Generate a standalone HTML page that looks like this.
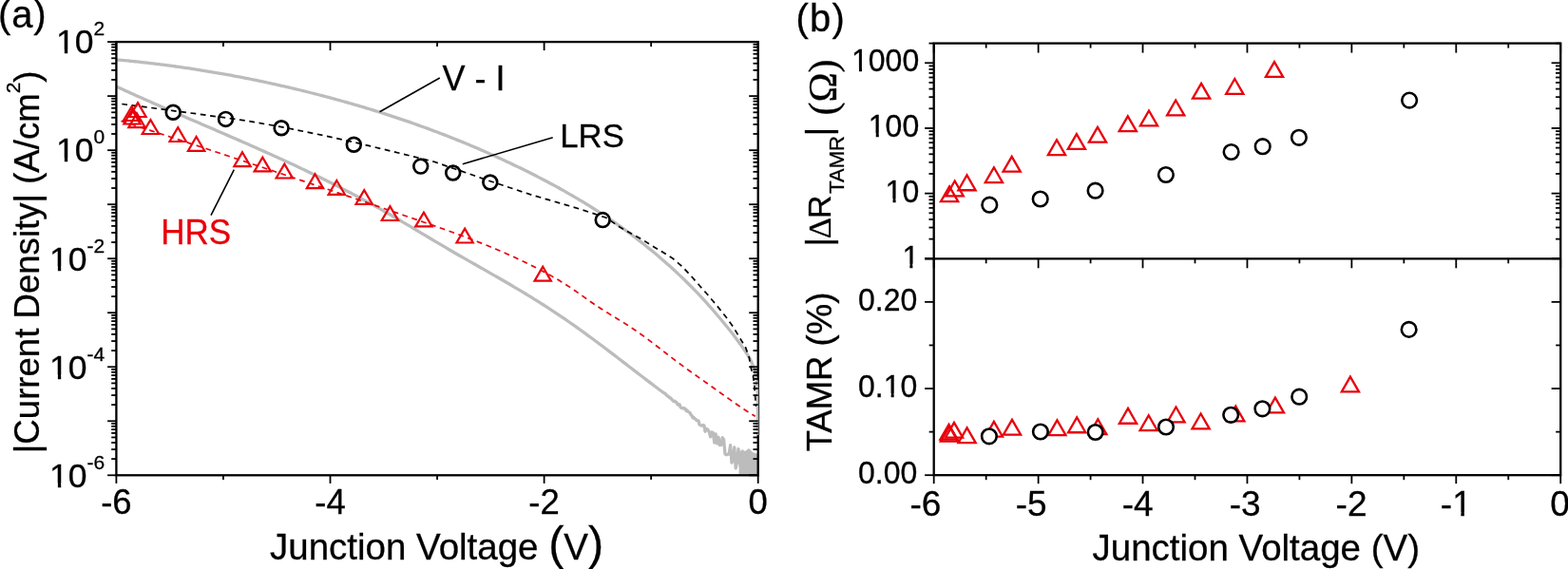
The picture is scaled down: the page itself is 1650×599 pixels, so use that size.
<!DOCTYPE html>
<html><head><meta charset="utf-8"><title>Figure</title>
<style>html,body{margin:0;padding:0;background:#fff;} svg{display:block;} text{stroke-width:0.3px;stroke:#000;}</style></head>
<body>
<svg width="1650" height="599" viewBox="0 0 1650 599">
<rect width="1650" height="599" fill="#fff"/>
<path d="M122.40,62.85 C122.90,62.90 124.40,63.03 125.40,63.12 C126.40,63.21 127.40,63.30 128.40,63.40 C129.40,63.49 130.40,63.59 131.40,63.68 C132.40,63.78 133.40,63.88 134.40,63.98 C135.40,64.07 136.40,64.17 137.40,64.27 C138.40,64.37 139.40,64.48 140.40,64.58 C141.40,64.68 142.40,64.79 143.40,64.89 C144.40,65.00 145.40,65.11 146.40,65.21 C147.40,65.32 148.40,65.43 149.40,65.54 C150.40,65.65 151.40,65.76 152.40,65.87 C153.40,65.99 154.40,66.10 155.40,66.22 C156.40,66.33 157.40,66.45 158.40,66.56 C159.40,66.68 160.40,66.80 161.40,66.92 C162.40,67.04 163.40,67.16 164.40,67.28 C165.40,67.41 166.40,67.53 167.40,67.65 C168.40,67.78 169.40,67.90 170.40,68.03 C171.40,68.16 172.40,68.28 173.40,68.41 C174.40,68.54 175.40,68.67 176.40,68.80 C177.40,68.94 178.40,69.07 179.40,69.20 C180.40,69.34 181.40,69.47 182.40,69.61 C183.40,69.74 184.40,69.88 185.40,70.02 C186.40,70.16 187.40,70.30 188.40,70.44 C189.40,70.58 190.40,70.72 191.40,70.87 C192.40,71.01 193.40,71.15 194.40,71.30 C195.40,71.45 196.40,71.59 197.40,71.74 C198.40,71.89 199.40,72.04 200.40,72.19 C201.40,72.34 202.40,72.49 203.40,72.64 C204.40,72.80 205.40,72.95 206.40,73.11 C207.40,73.26 208.40,73.42 209.40,73.58 C210.40,73.73 211.40,73.89 212.40,74.05 C213.40,74.21 214.40,74.37 215.40,74.54 C216.40,74.70 217.40,74.86 218.40,75.03 C219.40,75.19 220.40,75.36 221.40,75.53 C222.40,75.69 223.40,75.86 224.40,76.03 C225.40,76.20 226.40,76.37 227.40,76.54 C228.40,76.72 229.40,76.89 230.40,77.06 C231.40,77.24 232.40,77.41 233.40,77.59 C234.40,77.77 235.40,77.94 236.40,78.12 C237.40,78.30 238.40,78.48 239.40,78.66 C240.40,78.85 241.40,79.03 242.40,79.21 C243.40,79.40 244.40,79.58 245.40,79.77 C246.40,79.95 247.40,80.14 248.40,80.33 C249.40,80.52 250.40,80.71 251.40,80.90 C252.40,81.09 253.40,81.28 254.40,81.48 C255.40,81.67 256.40,81.86 257.40,82.06 C258.40,82.26 259.40,82.45 260.40,82.65 C261.40,82.85 262.40,83.05 263.40,83.25 C264.40,83.45 265.40,83.65 266.40,83.86 C267.40,84.06 268.40,84.26 269.40,84.47 C270.40,84.67 271.40,84.88 272.40,85.09 C273.40,85.30 274.40,85.51 275.40,85.72 C276.40,85.93 277.40,86.14 278.40,86.35 C279.40,86.56 280.40,86.78 281.40,86.99 C282.40,87.21 283.40,87.42 284.40,87.64 C285.40,87.86 286.40,88.08 287.40,88.30 C288.40,88.52 289.40,88.74 290.40,88.96 C291.40,89.18 292.40,89.41 293.40,89.63 C294.40,89.85 295.40,90.08 296.40,90.31 C297.40,90.53 298.40,90.76 299.40,90.99 C300.40,91.22 301.40,91.45 302.40,91.68 C303.40,91.92 304.40,92.15 305.40,92.38 C306.40,92.62 307.40,92.85 308.40,93.09 C309.40,93.33 310.40,93.56 311.40,93.80 C312.40,94.04 313.40,94.28 314.40,94.52 C315.40,94.77 316.40,95.01 317.40,95.25 C318.40,95.50 319.40,95.74 320.40,95.99 C321.40,96.24 322.40,96.48 323.40,96.73 C324.40,96.98 325.40,97.23 326.40,97.48 C327.40,97.73 328.40,97.98 329.40,98.24 C330.40,98.49 331.40,98.75 332.40,99.00 C333.40,99.26 334.40,99.52 335.40,99.77 C336.40,100.03 337.40,100.29 338.40,100.55 C339.40,100.81 340.40,101.08 341.40,101.34 C342.40,101.60 343.40,101.87 344.40,102.13 C345.40,102.40 346.40,102.67 347.40,102.93 C348.40,103.20 349.40,103.47 350.40,103.74 C351.40,104.01 352.40,104.29 353.40,104.56 C354.40,104.83 355.40,105.11 356.40,105.38 C357.40,105.66 358.40,105.94 359.40,106.22 C360.40,106.49 361.40,106.77 362.40,107.05 C363.40,107.34 364.40,107.62 365.40,107.90 C366.40,108.19 367.40,108.47 368.40,108.76 C369.40,109.04 370.40,109.33 371.40,109.62 C372.40,109.91 373.40,110.20 374.40,110.49 C375.40,110.78 376.40,111.08 377.40,111.37 C378.40,111.67 379.40,111.96 380.40,112.26 C381.40,112.56 382.40,112.85 383.40,113.15 C384.40,113.45 385.40,113.76 386.40,114.06 C387.40,114.36 388.40,114.67 389.40,114.97 C390.40,115.28 391.40,115.58 392.40,115.89 C393.40,116.20 394.40,116.51 395.40,116.82 C396.40,117.13 397.40,117.45 398.40,117.76 C399.40,118.08 400.40,118.39 401.40,118.71 C402.40,119.03 403.40,119.35 404.40,119.67 C405.40,119.99 406.40,120.31 407.40,120.63 C408.40,120.95 409.40,121.28 410.40,121.60 C411.40,121.93 412.40,122.26 413.40,122.59 C414.40,122.92 415.40,123.25 416.40,123.58 C417.40,123.91 418.40,124.25 419.40,124.58 C420.40,124.92 421.40,125.25 422.40,125.59 C423.40,125.93 424.40,126.27 425.40,126.61 C426.40,126.95 427.40,127.30 428.40,127.64 C429.40,127.99 430.40,128.33 431.40,128.68 C432.40,129.03 433.40,129.38 434.40,129.73 C435.40,130.08 436.40,130.43 437.40,130.79 C438.40,131.14 439.40,131.50 440.40,131.85 C441.40,132.21 442.40,132.57 443.40,132.93 C444.40,133.29 445.40,133.65 446.40,134.02 C447.40,134.38 448.40,134.75 449.40,135.11 C450.40,135.48 451.40,135.85 452.40,136.22 C453.40,136.59 454.40,136.96 455.40,137.34 C456.40,137.71 457.40,138.09 458.40,138.47 C459.40,138.84 460.40,139.22 461.40,139.60 C462.40,139.98 463.40,140.37 464.40,140.75 C465.40,141.13 466.40,141.52 467.40,141.91 C468.40,142.30 469.40,142.69 470.40,143.08 C471.40,143.47 472.40,143.86 473.40,144.26 C474.40,144.65 475.40,145.05 476.40,145.44 C477.40,145.84 478.40,146.24 479.40,146.64 C480.40,147.05 481.40,147.45 482.40,147.85 C483.40,148.26 484.40,148.67 485.40,149.08 C486.40,149.48 487.40,149.90 488.40,150.31 C489.40,150.72 490.40,151.13 491.40,151.55 C492.40,151.97 493.40,152.39 494.40,152.81 C495.40,153.22 496.40,153.65 497.40,154.07 C498.40,154.49 499.40,154.92 500.40,155.35 C501.40,155.77 502.40,156.20 503.40,156.63 C504.40,157.06 505.40,157.50 506.40,157.93 C507.40,158.37 508.40,158.80 509.40,159.24 C510.40,159.68 511.40,160.12 512.40,160.56 C513.40,161.01 514.40,161.45 515.40,161.90 C516.40,162.34 517.40,162.79 518.40,163.24 C519.40,163.69 520.40,164.14 521.40,164.60 C522.40,165.05 523.40,165.51 524.40,165.96 C525.40,166.42 526.40,166.88 527.40,167.34 C528.40,167.81 529.40,168.27 530.40,168.73 C531.40,169.20 532.40,169.67 533.40,170.14 C534.40,170.61 535.40,171.08 536.40,171.55 C537.40,172.03 538.40,172.50 539.40,172.98 C540.40,173.46 541.40,173.94 542.40,174.42 C543.40,174.90 544.40,175.38 545.40,175.87 C546.40,176.36 547.40,176.84 548.40,177.33 C549.40,177.82 550.40,178.32 551.40,178.81 C552.40,179.30 553.40,179.80 554.40,180.30 C555.40,180.80 556.40,181.30 557.40,181.80 C558.40,182.30 559.40,182.81 560.40,183.31 C561.40,183.82 562.40,184.33 563.40,184.84 C564.40,185.35 565.40,185.86 566.40,186.38 C567.40,186.89 568.40,187.41 569.40,187.93 C570.40,188.45 571.40,188.97 572.40,189.50 C573.40,190.02 574.40,190.55 575.40,191.08 C576.40,191.61 577.40,192.14 578.40,192.68 C579.40,193.21 580.40,193.75 581.40,194.29 C582.40,194.83 583.40,195.37 584.40,195.92 C585.40,196.46 586.40,197.01 587.40,197.56 C588.40,198.11 589.40,198.67 590.40,199.23 C591.40,199.78 592.40,200.34 593.40,200.91 C594.40,201.47 595.40,202.03 596.40,202.60 C597.40,203.17 598.40,203.74 599.40,204.32 C600.40,204.89 601.40,205.47 602.40,206.05 C603.40,206.64 604.40,207.22 605.40,207.81 C606.40,208.40 607.40,208.99 608.40,209.58 C609.40,210.18 610.40,210.78 611.40,211.38 C612.40,211.98 613.40,212.59 614.40,213.19 C615.40,213.80 616.40,214.42 617.40,215.03 C618.40,215.65 619.40,216.27 620.40,216.89 C621.40,217.51 622.40,218.14 623.40,218.77 C624.40,219.40 625.40,220.04 626.40,220.68 C627.40,221.32 628.40,221.96 629.40,222.61 C630.40,223.25 631.40,223.90 632.40,224.56 C633.40,225.21 634.40,225.87 635.40,226.53 C636.40,227.20 637.40,227.86 638.40,228.54 C639.40,229.21 640.40,229.88 641.40,230.56 C642.40,231.24 643.40,231.93 644.40,232.61 C645.40,233.30 646.40,234.00 647.40,234.69 C648.40,235.39 649.40,236.09 650.40,236.80 C651.40,237.50 652.40,238.22 653.40,238.93 C654.40,239.65 655.40,240.37 656.40,241.09 C657.40,241.82 658.40,242.55 659.40,243.28 C660.40,244.01 661.40,244.75 662.40,245.50 C663.40,246.24 664.40,246.99 665.40,247.75 C666.40,248.50 667.40,249.26 668.40,250.02 C669.40,250.79 670.40,251.55 671.40,252.33 C672.40,253.10 673.40,253.88 674.40,254.67 C675.40,255.45 676.40,256.24 677.40,257.03 C678.40,257.83 679.40,258.63 680.40,259.44 C681.40,260.24 682.40,261.05 683.40,261.87 C684.40,262.68 685.40,263.51 686.40,264.33 C687.40,265.16 688.40,265.99 689.40,266.83 C690.40,267.67 691.40,268.51 692.40,269.36 C693.40,270.21 694.40,271.07 695.40,271.93 C696.40,272.79 697.40,273.66 698.40,274.53 C699.40,275.40 700.40,276.28 701.40,277.17 C702.40,278.05 703.40,278.94 704.40,279.84 C705.40,280.74 706.40,281.64 707.40,282.55 C708.40,283.46 709.40,284.38 710.40,285.30 C711.40,286.22 712.40,287.15 713.40,288.09 C714.40,289.03 715.40,289.97 716.40,290.93 C717.40,291.88 718.40,292.84 719.40,293.81 C720.40,294.77 721.40,295.75 722.40,296.73 C723.40,297.72 724.40,298.71 725.40,299.71 C726.40,300.71 727.40,301.72 728.40,302.74 C729.40,303.76 730.40,304.78 731.40,305.82 C732.40,306.85 733.40,307.90 734.40,308.95 C735.40,310.00 736.40,311.07 737.40,312.14 C738.40,313.21 739.40,314.30 740.40,315.39 C741.40,316.48 742.40,317.58 743.40,318.69 C744.40,319.81 745.40,320.93 746.40,322.06 C747.40,323.19 748.40,324.33 749.40,325.47 C750.40,326.62 751.40,327.78 752.40,328.94 C753.40,330.11 754.40,331.28 755.40,332.46 C756.40,333.64 757.40,334.83 758.40,336.03 C759.40,337.22 760.40,338.43 761.40,339.64 C762.40,340.85 763.40,342.06 764.40,343.29 C765.40,344.52 766.40,345.75 767.40,347.00 C768.40,348.25 769.40,349.51 770.40,350.79 C771.40,352.07 772.40,353.36 773.40,354.67 C774.40,355.99 775.40,357.32 776.40,358.68 C777.40,360.04 778.40,361.42 779.40,362.84 C780.40,364.25 781.40,365.68 782.40,367.15 C783.40,368.62 784.40,370.12 785.40,371.66 C786.40,373.20 787.22,374.12 788.40,376.38 C789.58,378.63 791.43,382.51 792.50,385.20 C793.57,387.89 794.12,389.75 794.80,392.50 C795.48,395.25 796.15,398.63 796.60,401.70 C797.05,404.77 797.28,407.52 797.50,410.90 C797.72,414.28 797.83,414.15 797.90,422.00 C797.97,429.85 797.90,452.00 797.90,458.00" fill="none" stroke="#bcbcbc" stroke-width="3.3" stroke-linejoin="round"/>
<path d="M122.40,91.07 L125.41,92.45 L128.42,93.83 L131.43,95.21 L134.45,96.57 L137.46,97.94 L140.47,99.29 L143.48,100.65 L146.49,101.99 L149.50,103.34 L152.52,104.68 L155.53,106.01 L158.54,107.34 L161.55,108.67 L164.56,110.00 L167.57,111.32 L170.59,112.64 L173.60,113.95 L176.61,115.27 L179.62,116.58 L182.63,117.89 L185.64,119.20 L188.66,120.50 L191.67,121.81 L194.68,123.11 L197.69,124.41 L200.70,125.71 L203.71,127.01 L206.73,128.31 L209.74,129.61 L212.75,130.91 L215.76,132.21 L218.77,133.51 L221.78,134.81 L224.79,136.11 L227.81,137.41 L230.82,138.71 L233.83,140.01 L236.84,141.32 L239.85,142.63 L242.86,143.94 L245.88,145.25 L248.89,146.56 L251.90,147.88 L254.91,149.19 L257.92,150.52 L260.93,151.84 L263.95,153.17 L266.96,154.50 L269.97,155.84 L272.98,157.17 L275.99,158.52 L279.00,159.87 L282.02,161.22 L285.03,162.57 L288.04,163.94 L291.05,165.30 L294.06,166.68 L297.07,168.05 L300.09,169.44 L303.10,170.83 L306.11,172.22 L309.12,173.62 L312.13,175.03 L315.14,176.45 L318.16,177.87 L321.17,179.30 L324.18,180.74 L327.19,182.18 L330.20,183.63 L333.21,185.10 L336.22,186.56 L339.24,188.04 L342.25,189.53 L345.26,191.02 L348.27,192.52 L351.28,194.04 L354.29,195.56 L357.31,197.09 L360.32,198.63 L363.33,200.18 L366.34,201.74 L369.35,203.31 L372.36,204.90 L375.38,206.49 L378.39,208.09 L381.40,209.71 L384.41,211.34 L387.42,212.97 L390.43,214.62 L393.45,216.29 L396.46,217.96 L399.47,219.65 L402.48,221.35 L405.49,223.06 L408.50,224.78 L411.52,226.52 L414.53,228.27 L417.54,230.02 L420.55,231.79 L423.56,233.56 L426.57,235.34 L429.58,237.13 L432.60,238.92 L435.61,240.71 L438.62,242.51 L441.63,244.31 L444.64,246.11 L447.65,247.91 L450.67,249.71 L453.68,251.51 L456.69,253.31 L459.70,255.10 L462.71,256.89 L465.72,258.67 L468.74,260.44 L471.75,262.21 L474.76,263.97 L477.77,265.72 L480.78,267.46 L483.79,269.20 L486.81,270.93 L489.82,272.65 L492.83,274.37 L495.84,276.09 L498.85,277.80 L501.86,279.52 L504.88,281.23 L507.89,282.94 L510.90,284.66 L513.91,286.37 L516.92,288.09 L519.93,289.82 L522.94,291.54 L525.96,293.28 L528.97,295.02 L531.98,296.76 L534.99,298.52 L538.00,300.28 L541.01,302.06 L544.03,303.84 L547.04,305.64 L550.05,307.45 L553.06,309.27 L556.07,311.11 L559.08,312.96 L562.10,314.82 L565.11,316.70 L568.12,318.60 L571.13,320.51 L574.14,322.44 L577.15,324.38 L580.17,326.34 L583.18,328.32 L586.19,330.32 L589.20,332.34 L592.21,334.37 L595.22,336.43 L598.24,338.50 L601.25,340.59 L604.26,342.71 L607.27,344.84 L610.28,347.00 L613.29,349.16 L616.31,351.35 L619.32,353.55 L622.33,355.77 L625.34,358.00 L628.35,360.24 L631.36,362.49 L634.37,364.76 L637.39,367.03 L640.40,369.31 L643.41,371.60 L646.42,373.90 L649.43,376.20 L652.44,378.51 L655.46,380.82 L658.47,383.13 L661.48,385.44 L664.49,387.76 L667.50,390.08 L670.51,392.39 L673.53,394.71 L676.54,397.02 L679.55,399.32 L682.56,401.62 L685.57,403.92 L688.58,406.21 L691.60,408.49 L694.61,410.76 L697.62,413.02 L700.00,414.45 L701.00,415.43 L702.00,416.73 L703.00,417.06 L704.00,417.98 L705.00,418.96 L706.00,419.22 L707.00,420.59 L708.00,421.60 L709.00,422.66 L710.00,422.14 L711.00,423.27 L712.00,423.58 L713.00,425.83 L714.00,426.36 L715.00,425.64 L716.00,428.59 L717.00,429.35 L718.00,429.36 L719.00,430.07 L720.00,429.71 L721.00,430.15 L722.00,432.46 L723.00,431.95 L724.00,433.18 L725.00,434.19 L726.00,434.37 L727.00,436.65 L728.00,437.45 L729.00,439.74 L730.00,439.50 L731.00,440.83 L732.00,441.20 L733.00,442.71 L734.00,442.80 L735.00,442.97 L736.00,446.78 L737.00,447.70 L738.00,447.96 L739.00,448.30 L740.00,447.47 L741.00,447.95 L742.00,454.34 L743.40,451.44 L744.80,452.23 L746.20,454.69 L747.60,459.90 L749.00,455.04 L750.40,455.63 L751.80,466.15 L753.20,456.86 L754.60,466.82 L756.00,460.25 L757.40,468.69 L758.80,468.48 L760.20,460.76 L761.60,462.66 L763.00,478.06 L764.40,478.76 L765.80,478.15 L767.20,478.10 L768.60,468.68 L770.00,487.09 L771.40,483.46 L772.80,470.97 L774.20,492.87 L775.60,486.06 L777.00,472.74 L778.40,486.42 L779.80,493.84 L781.20,495.34 L782.60,494.69 L784.00,477.23 L785.40,479.34 L786.80,494.19 L788.20,480.72 L789.60,496.98 L791.00,482.70 L792.40,499.00 L793.80,483.07 L795.20,499.00 L796.60,499.00" fill="none" stroke="#bcbcbc" stroke-width="3.3" stroke-linejoin="round"/>
<polygon points="777.5,499.5 778,476 781,473 784,475 788,472 792,476 797.5,478 797.5,499.5" fill="#bcbcbc"/>
<circle cx="182.20" cy="118.20" r="7.4" fill="#fff" stroke="#000" stroke-width="2.7"/>
<circle cx="237.50" cy="125.40" r="7.4" fill="#fff" stroke="#000" stroke-width="2.7"/>
<circle cx="296.10" cy="134.80" r="7.4" fill="#fff" stroke="#000" stroke-width="2.7"/>
<circle cx="372.30" cy="152.20" r="7.4" fill="#fff" stroke="#000" stroke-width="2.7"/>
<circle cx="442.70" cy="175.10" r="7.4" fill="#fff" stroke="#000" stroke-width="2.7"/>
<circle cx="476.70" cy="182.00" r="7.4" fill="#fff" stroke="#000" stroke-width="2.7"/>
<circle cx="515.80" cy="192.00" r="7.4" fill="#fff" stroke="#000" stroke-width="2.7"/>
<circle cx="634.20" cy="231.60" r="7.4" fill="#fff" stroke="#000" stroke-width="2.7"/>
<path d="M128.30,109.50 L163.00,114.00 L182.20,116.60 L206.00,119.70 L227.00,122.60 L237.50,124.00 L258.00,126.90 L296.00,133.60 L308.70,136.10 L340.00,142.50 L372.30,149.60 L400.10,156.30 L442.70,166.70 L456.80,170.30 L477.00,177.30 L490.10,181.70 L516.00,190.80 L525.10,193.80 L560.20,205.40 L595.20,215.60 L609.20,219.80 L623.30,224.30 L638.00,229.30 L652.50,239.20 L665.00,246.30 L677.50,253.20 L685.90,258.60 L694.20,263.50 L707.50,271.70 L717.50,280.20 L727.60,290.90 L737.60,302.40 L743.80,309.20 L754.60,322.00 L763.40,333.00 L771.30,343.80 L777.50,354.00 L784.70,366.00 L788.40,376.50 L790.20,387.00 L792.50,396.00 L793.90,406.00 L794.60,416.00 L795.50,428.00" fill="none" stroke="#000" stroke-width="1.7" stroke-linejoin="round" stroke-dasharray="5.8 4.6"/>
<path d="M127.50,127.36 L130.51,128.33 L133.51,129.30 L136.52,130.27 L139.52,131.24 L142.53,132.22 L145.54,133.19 L148.54,134.16 L151.55,135.14 L154.55,136.12 L157.56,137.09 L160.56,138.07 L163.57,139.05 L166.58,140.03 L169.58,141.01 L172.59,141.99 L175.59,142.97 L178.60,143.95 L181.61,144.94 L184.61,145.92 L187.62,146.90 L190.62,147.89 L193.63,148.87 L196.63,149.86 L199.64,150.85 L202.65,151.83 L205.65,152.82 L208.66,153.81 L211.66,154.80 L214.67,155.79 L217.68,156.78 L220.68,157.77 L223.69,158.77 L226.69,159.76 L229.70,160.75 L232.70,161.75 L235.71,162.74 L238.72,163.74 L241.72,164.73 L244.73,165.73 L247.73,166.73 L250.74,167.73 L253.75,168.73 L256.75,169.73 L259.76,170.73 L262.76,171.73 L265.77,172.73 L268.78,173.73 L271.78,174.73 L274.79,175.74 L277.79,176.74 L280.80,177.75 L283.80,178.75 L286.81,179.76 L289.82,180.77 L292.82,181.77 L295.83,182.78 L298.83,183.79 L301.84,184.80 L304.85,185.81 L307.85,186.82 L310.86,187.83 L313.86,188.84 L316.87,189.86 L319.87,190.87 L322.88,191.88 L325.89,192.90 L328.89,193.91 L331.90,194.93 L334.90,195.94 L337.91,196.96 L340.92,197.98 L343.92,199.00 L346.93,200.01 L349.93,201.03 L352.94,202.05 L355.95,203.07 L358.95,204.09 L361.96,205.12 L364.96,206.14 L367.97,207.16 L370.97,208.18 L373.98,209.21 L376.99,210.23 L379.99,211.26 L383.00,212.28 L386.00,213.31 L389.01,214.34 L392.02,215.36 L395.02,216.39 L398.03,217.42 L401.03,218.45 L404.04,219.48 L407.04,220.51 L410.05,221.54 L413.06,222.57 L416.06,223.60 L419.07,224.64 L422.07,225.67 L425.08,226.70 L428.09,227.74 L431.09,228.77 L434.10,229.81 L437.10,230.84 L440.11,231.88 L443.11,232.92 L446.12,233.96 L449.13,235.00 L452.13,236.04 L455.14,237.09 L458.14,238.14 L461.15,239.20 L464.16,240.26 L467.16,241.32 L470.17,242.39 L473.17,243.47 L476.18,244.56 L479.19,245.65 L482.19,246.75 L485.20,247.86 L488.20,248.98 L491.21,250.11 L494.21,251.25 L497.22,252.39 L500.23,253.55 L503.23,254.73 L506.24,255.91 L509.24,257.11 L512.25,258.32 L515.26,259.54 L518.26,260.78 L521.27,262.04 L524.27,263.30 L527.28,264.59 L530.28,265.89 L533.29,267.21 L536.30,268.55 L539.30,269.90 L542.31,271.28 L545.31,272.67 L548.32,274.08 L551.33,275.51 L554.33,276.97 L557.34,278.44 L560.34,279.94 L563.35,281.46 L566.35,283.01 L569.36,284.57 L572.37,286.16 L575.37,287.78 L578.38,289.43 L581.38,291.12 L584.39,292.84 L587.40,294.60 L590.40,296.41 L593.41,298.27 L596.41,300.18 L599.42,302.15 L602.43,304.17 L605.43,306.25 L608.44,308.36 L611.44,310.49 L614.45,312.64 L617.45,314.77 L620.46,316.89 L623.47,318.98 L626.47,321.02 L629.48,323.01 L632.48,324.95 L635.49,326.86 L638.50,328.75 L641.50,330.61 L644.51,332.46 L647.51,334.31 L650.52,336.16 L653.52,338.01 L656.53,339.89 L659.54,341.80 L662.54,343.73 L665.55,345.71 L668.55,347.74 L671.56,349.82 L674.57,351.95 L677.57,354.12 L680.58,356.34 L683.58,358.58 L686.59,360.86 L689.60,363.16 L692.60,365.47 L695.61,367.80 L698.61,370.13 L701.62,372.46 L704.62,374.79 L707.63,377.10 L710.64,379.40 L713.64,381.67 L716.65,383.92 L719.65,386.14 L722.66,388.33 L725.67,390.50 L728.67,392.66 L731.68,394.80 L734.68,396.93 L737.69,399.05 L740.69,401.17 L743.70,403.29 L746.71,405.41 L749.71,407.55 L752.72,409.69 L755.72,411.84 L758.73,413.99 L761.74,416.14 L764.74,418.28 L767.75,420.41 L770.75,422.52 L773.76,424.61 L776.76,426.68 L779.77,428.71 L782.78,430.71 L785.78,432.67 L788.79,434.58 L791.79,436.44 L794.80,438.25" fill="none" stroke="#e8000b" stroke-width="1.7" stroke-linejoin="round" stroke-dasharray="5.8 4.6"/>
<path d="M138.60,112.18 L147.25,126.98 L129.95,126.98 Z" fill="none" stroke="#e8000b" stroke-width="2.2" stroke-linejoin="miter"/>
<path d="M139.00,115.68 L147.65,130.48 L130.35,130.48 Z" fill="none" stroke="#e8000b" stroke-width="2.2" stroke-linejoin="miter"/>
<path d="M145.00,108.18 L153.65,122.98 L136.35,122.98 Z" fill="none" stroke="#e8000b" stroke-width="2.2" stroke-linejoin="miter"/>
<path d="M144.00,119.28 L152.65,134.08 L135.35,134.08 Z" fill="none" stroke="#e8000b" stroke-width="2.2" stroke-linejoin="miter"/>
<path d="M158.40,126.18 L167.05,140.98 L149.75,140.98 Z" fill="none" stroke="#e8000b" stroke-width="2.2" stroke-linejoin="miter"/>
<path d="M187.20,134.18 L195.85,148.98 L178.55,148.98 Z" fill="none" stroke="#e8000b" stroke-width="2.2" stroke-linejoin="miter"/>
<path d="M206.60,143.98 L215.25,158.78 L197.95,158.78 Z" fill="none" stroke="#e8000b" stroke-width="2.2" stroke-linejoin="miter"/>
<path d="M255.00,160.28 L263.65,175.08 L246.35,175.08 Z" fill="none" stroke="#e8000b" stroke-width="2.2" stroke-linejoin="miter"/>
<path d="M276.30,165.58 L284.95,180.38 L267.65,180.38 Z" fill="none" stroke="#e8000b" stroke-width="2.2" stroke-linejoin="miter"/>
<path d="M299.30,172.68 L307.95,187.48 L290.65,187.48 Z" fill="none" stroke="#e8000b" stroke-width="2.2" stroke-linejoin="miter"/>
<path d="M331.50,183.28 L340.15,198.08 L322.85,198.08 Z" fill="none" stroke="#e8000b" stroke-width="2.2" stroke-linejoin="miter"/>
<path d="M354.30,189.98 L362.95,204.78 L345.65,204.78 Z" fill="none" stroke="#e8000b" stroke-width="2.2" stroke-linejoin="miter"/>
<path d="M383.20,200.18 L391.85,214.98 L374.55,214.98 Z" fill="none" stroke="#e8000b" stroke-width="2.2" stroke-linejoin="miter"/>
<path d="M410.40,217.18 L419.05,231.98 L401.75,231.98 Z" fill="none" stroke="#e8000b" stroke-width="2.2" stroke-linejoin="miter"/>
<path d="M445.90,223.58 L454.55,238.38 L437.25,238.38 Z" fill="none" stroke="#e8000b" stroke-width="2.2" stroke-linejoin="miter"/>
<path d="M489.10,240.68 L497.75,255.48 L480.45,255.48 Z" fill="none" stroke="#e8000b" stroke-width="2.2" stroke-linejoin="miter"/>
<path d="M571.20,280.78 L579.85,295.58 L562.55,295.58 Z" fill="none" stroke="#e8000b" stroke-width="2.2" stroke-linejoin="miter"/>
<line x1="399.50" y1="117.80" x2="462.80" y2="82.00" stroke="#000" stroke-width="1.6"/>
<text transform="translate(465.60,94.80) scale(1,1.045)" font-family='"Liberation Sans", Arial, sans-serif' font-size="36" text-anchor="start" fill="#000" stroke="#000">V - I</text>
<line x1="486.80" y1="172.80" x2="581.70" y2="144.70" stroke="#000" stroke-width="1.6"/>
<text transform="translate(589.30,155.40) scale(1,1.03)" font-family='"Liberation Sans", Arial, sans-serif' font-size="34.7" text-anchor="start" fill="#000" stroke="#000">LRS</text>
<line x1="246.30" y1="178.60" x2="222.00" y2="226.60" stroke="#000" stroke-width="1.6"/>
<text transform="translate(169.20,257.00) scale(1,1.03)" font-family='"Liberation Sans", Arial, sans-serif' font-size="35" text-anchor="start" fill="#e8000b" stroke="#e8000b" style="stroke:#e8000b">HRS</text>
<rect x="122.40" y="44.10" width="675.30" height="456.20" fill="none" stroke="#000" stroke-width="2.3"/>
<path d="M795.30,397.00 L796.50,402.00 L797.00,411.00 L797.10,440.00 L797.10,458.00" fill="none" stroke="#bcbcbc" stroke-width="2.4" stroke-linejoin="round"/>
<line x1="122.40" y1="500.30" x2="122.40" y2="508.90" stroke="#000" stroke-width="1.8"/>
<line x1="122.40" y1="44.10" x2="122.40" y2="53.10" stroke="#000" stroke-width="1.8"/>
<line x1="234.95" y1="500.30" x2="234.95" y2="504.90" stroke="#000" stroke-width="1.8"/>
<line x1="234.95" y1="44.10" x2="234.95" y2="49.10" stroke="#000" stroke-width="1.8"/>
<line x1="347.50" y1="500.30" x2="347.50" y2="508.90" stroke="#000" stroke-width="1.8"/>
<line x1="347.50" y1="44.10" x2="347.50" y2="53.10" stroke="#000" stroke-width="1.8"/>
<line x1="460.05" y1="500.30" x2="460.05" y2="504.90" stroke="#000" stroke-width="1.8"/>
<line x1="460.05" y1="44.10" x2="460.05" y2="49.10" stroke="#000" stroke-width="1.8"/>
<line x1="572.60" y1="500.30" x2="572.60" y2="508.90" stroke="#000" stroke-width="1.8"/>
<line x1="572.60" y1="44.10" x2="572.60" y2="53.10" stroke="#000" stroke-width="1.8"/>
<line x1="685.15" y1="500.30" x2="685.15" y2="504.90" stroke="#000" stroke-width="1.8"/>
<line x1="685.15" y1="44.10" x2="685.15" y2="49.10" stroke="#000" stroke-width="1.8"/>
<line x1="797.70" y1="500.30" x2="797.70" y2="508.90" stroke="#000" stroke-width="1.8"/>
<line x1="797.70" y1="44.10" x2="797.70" y2="53.10" stroke="#000" stroke-width="1.8"/>
<line x1="113.10" y1="500.30" x2="122.40" y2="500.30" stroke="#000" stroke-width="1.8"/>
<line x1="797.70" y1="500.30" x2="788.20" y2="500.30" stroke="#000" stroke-width="1.8"/>
<line x1="117.20" y1="483.13" x2="122.40" y2="483.13" stroke="#000" stroke-width="1.8"/>
<line x1="797.70" y1="483.13" x2="792.50" y2="483.13" stroke="#000" stroke-width="1.8"/>
<line x1="117.20" y1="473.09" x2="122.40" y2="473.09" stroke="#000" stroke-width="1.8"/>
<line x1="797.70" y1="473.09" x2="792.50" y2="473.09" stroke="#000" stroke-width="1.8"/>
<line x1="117.20" y1="465.97" x2="122.40" y2="465.97" stroke="#000" stroke-width="1.8"/>
<line x1="797.70" y1="465.97" x2="792.50" y2="465.97" stroke="#000" stroke-width="1.8"/>
<line x1="117.20" y1="460.44" x2="122.40" y2="460.44" stroke="#000" stroke-width="1.8"/>
<line x1="797.70" y1="460.44" x2="792.50" y2="460.44" stroke="#000" stroke-width="1.8"/>
<line x1="117.20" y1="455.93" x2="122.40" y2="455.93" stroke="#000" stroke-width="1.8"/>
<line x1="797.70" y1="455.93" x2="792.50" y2="455.93" stroke="#000" stroke-width="1.8"/>
<line x1="117.20" y1="452.11" x2="122.40" y2="452.11" stroke="#000" stroke-width="1.8"/>
<line x1="797.70" y1="452.11" x2="792.50" y2="452.11" stroke="#000" stroke-width="1.8"/>
<line x1="117.20" y1="448.80" x2="122.40" y2="448.80" stroke="#000" stroke-width="1.8"/>
<line x1="797.70" y1="448.80" x2="792.50" y2="448.80" stroke="#000" stroke-width="1.8"/>
<line x1="117.20" y1="445.88" x2="122.40" y2="445.88" stroke="#000" stroke-width="1.8"/>
<line x1="797.70" y1="445.88" x2="792.50" y2="445.88" stroke="#000" stroke-width="1.8"/>
<line x1="113.10" y1="443.28" x2="122.40" y2="443.28" stroke="#000" stroke-width="1.8"/>
<line x1="797.70" y1="443.28" x2="788.20" y2="443.28" stroke="#000" stroke-width="1.8"/>
<line x1="117.20" y1="426.11" x2="122.40" y2="426.11" stroke="#000" stroke-width="1.8"/>
<line x1="797.70" y1="426.11" x2="792.50" y2="426.11" stroke="#000" stroke-width="1.8"/>
<line x1="117.20" y1="416.07" x2="122.40" y2="416.07" stroke="#000" stroke-width="1.8"/>
<line x1="797.70" y1="416.07" x2="792.50" y2="416.07" stroke="#000" stroke-width="1.8"/>
<line x1="117.20" y1="408.94" x2="122.40" y2="408.94" stroke="#000" stroke-width="1.8"/>
<line x1="797.70" y1="408.94" x2="792.50" y2="408.94" stroke="#000" stroke-width="1.8"/>
<line x1="117.20" y1="403.42" x2="122.40" y2="403.42" stroke="#000" stroke-width="1.8"/>
<line x1="797.70" y1="403.42" x2="792.50" y2="403.42" stroke="#000" stroke-width="1.8"/>
<line x1="117.20" y1="398.90" x2="122.40" y2="398.90" stroke="#000" stroke-width="1.8"/>
<line x1="797.70" y1="398.90" x2="792.50" y2="398.90" stroke="#000" stroke-width="1.8"/>
<line x1="117.20" y1="395.08" x2="122.40" y2="395.08" stroke="#000" stroke-width="1.8"/>
<line x1="797.70" y1="395.08" x2="792.50" y2="395.08" stroke="#000" stroke-width="1.8"/>
<line x1="117.20" y1="391.78" x2="122.40" y2="391.78" stroke="#000" stroke-width="1.8"/>
<line x1="797.70" y1="391.78" x2="792.50" y2="391.78" stroke="#000" stroke-width="1.8"/>
<line x1="117.20" y1="388.86" x2="122.40" y2="388.86" stroke="#000" stroke-width="1.8"/>
<line x1="797.70" y1="388.86" x2="792.50" y2="388.86" stroke="#000" stroke-width="1.8"/>
<line x1="113.10" y1="386.25" x2="122.40" y2="386.25" stroke="#000" stroke-width="1.8"/>
<line x1="797.70" y1="386.25" x2="788.20" y2="386.25" stroke="#000" stroke-width="1.8"/>
<line x1="117.20" y1="369.08" x2="122.40" y2="369.08" stroke="#000" stroke-width="1.8"/>
<line x1="797.70" y1="369.08" x2="792.50" y2="369.08" stroke="#000" stroke-width="1.8"/>
<line x1="117.20" y1="359.04" x2="122.40" y2="359.04" stroke="#000" stroke-width="1.8"/>
<line x1="797.70" y1="359.04" x2="792.50" y2="359.04" stroke="#000" stroke-width="1.8"/>
<line x1="117.20" y1="351.92" x2="122.40" y2="351.92" stroke="#000" stroke-width="1.8"/>
<line x1="797.70" y1="351.92" x2="792.50" y2="351.92" stroke="#000" stroke-width="1.8"/>
<line x1="117.20" y1="346.39" x2="122.40" y2="346.39" stroke="#000" stroke-width="1.8"/>
<line x1="797.70" y1="346.39" x2="792.50" y2="346.39" stroke="#000" stroke-width="1.8"/>
<line x1="117.20" y1="341.88" x2="122.40" y2="341.88" stroke="#000" stroke-width="1.8"/>
<line x1="797.70" y1="341.88" x2="792.50" y2="341.88" stroke="#000" stroke-width="1.8"/>
<line x1="117.20" y1="338.06" x2="122.40" y2="338.06" stroke="#000" stroke-width="1.8"/>
<line x1="797.70" y1="338.06" x2="792.50" y2="338.06" stroke="#000" stroke-width="1.8"/>
<line x1="117.20" y1="334.75" x2="122.40" y2="334.75" stroke="#000" stroke-width="1.8"/>
<line x1="797.70" y1="334.75" x2="792.50" y2="334.75" stroke="#000" stroke-width="1.8"/>
<line x1="117.20" y1="331.83" x2="122.40" y2="331.83" stroke="#000" stroke-width="1.8"/>
<line x1="797.70" y1="331.83" x2="792.50" y2="331.83" stroke="#000" stroke-width="1.8"/>
<line x1="113.10" y1="329.23" x2="122.40" y2="329.23" stroke="#000" stroke-width="1.8"/>
<line x1="797.70" y1="329.23" x2="788.20" y2="329.23" stroke="#000" stroke-width="1.8"/>
<line x1="117.20" y1="312.06" x2="122.40" y2="312.06" stroke="#000" stroke-width="1.8"/>
<line x1="797.70" y1="312.06" x2="792.50" y2="312.06" stroke="#000" stroke-width="1.8"/>
<line x1="117.20" y1="302.02" x2="122.40" y2="302.02" stroke="#000" stroke-width="1.8"/>
<line x1="797.70" y1="302.02" x2="792.50" y2="302.02" stroke="#000" stroke-width="1.8"/>
<line x1="117.20" y1="294.89" x2="122.40" y2="294.89" stroke="#000" stroke-width="1.8"/>
<line x1="797.70" y1="294.89" x2="792.50" y2="294.89" stroke="#000" stroke-width="1.8"/>
<line x1="117.20" y1="289.37" x2="122.40" y2="289.37" stroke="#000" stroke-width="1.8"/>
<line x1="797.70" y1="289.37" x2="792.50" y2="289.37" stroke="#000" stroke-width="1.8"/>
<line x1="117.20" y1="284.85" x2="122.40" y2="284.85" stroke="#000" stroke-width="1.8"/>
<line x1="797.70" y1="284.85" x2="792.50" y2="284.85" stroke="#000" stroke-width="1.8"/>
<line x1="117.20" y1="281.03" x2="122.40" y2="281.03" stroke="#000" stroke-width="1.8"/>
<line x1="797.70" y1="281.03" x2="792.50" y2="281.03" stroke="#000" stroke-width="1.8"/>
<line x1="117.20" y1="277.73" x2="122.40" y2="277.73" stroke="#000" stroke-width="1.8"/>
<line x1="797.70" y1="277.73" x2="792.50" y2="277.73" stroke="#000" stroke-width="1.8"/>
<line x1="117.20" y1="274.81" x2="122.40" y2="274.81" stroke="#000" stroke-width="1.8"/>
<line x1="797.70" y1="274.81" x2="792.50" y2="274.81" stroke="#000" stroke-width="1.8"/>
<line x1="113.10" y1="272.20" x2="122.40" y2="272.20" stroke="#000" stroke-width="1.8"/>
<line x1="797.70" y1="272.20" x2="788.20" y2="272.20" stroke="#000" stroke-width="1.8"/>
<line x1="117.20" y1="255.03" x2="122.40" y2="255.03" stroke="#000" stroke-width="1.8"/>
<line x1="797.70" y1="255.03" x2="792.50" y2="255.03" stroke="#000" stroke-width="1.8"/>
<line x1="117.20" y1="244.99" x2="122.40" y2="244.99" stroke="#000" stroke-width="1.8"/>
<line x1="797.70" y1="244.99" x2="792.50" y2="244.99" stroke="#000" stroke-width="1.8"/>
<line x1="117.20" y1="237.87" x2="122.40" y2="237.87" stroke="#000" stroke-width="1.8"/>
<line x1="797.70" y1="237.87" x2="792.50" y2="237.87" stroke="#000" stroke-width="1.8"/>
<line x1="117.20" y1="232.34" x2="122.40" y2="232.34" stroke="#000" stroke-width="1.8"/>
<line x1="797.70" y1="232.34" x2="792.50" y2="232.34" stroke="#000" stroke-width="1.8"/>
<line x1="117.20" y1="227.83" x2="122.40" y2="227.83" stroke="#000" stroke-width="1.8"/>
<line x1="797.70" y1="227.83" x2="792.50" y2="227.83" stroke="#000" stroke-width="1.8"/>
<line x1="117.20" y1="224.01" x2="122.40" y2="224.01" stroke="#000" stroke-width="1.8"/>
<line x1="797.70" y1="224.01" x2="792.50" y2="224.01" stroke="#000" stroke-width="1.8"/>
<line x1="117.20" y1="220.70" x2="122.40" y2="220.70" stroke="#000" stroke-width="1.8"/>
<line x1="797.70" y1="220.70" x2="792.50" y2="220.70" stroke="#000" stroke-width="1.8"/>
<line x1="117.20" y1="217.78" x2="122.40" y2="217.78" stroke="#000" stroke-width="1.8"/>
<line x1="797.70" y1="217.78" x2="792.50" y2="217.78" stroke="#000" stroke-width="1.8"/>
<line x1="113.10" y1="215.17" x2="122.40" y2="215.17" stroke="#000" stroke-width="1.8"/>
<line x1="797.70" y1="215.17" x2="788.20" y2="215.17" stroke="#000" stroke-width="1.8"/>
<line x1="117.20" y1="198.01" x2="122.40" y2="198.01" stroke="#000" stroke-width="1.8"/>
<line x1="797.70" y1="198.01" x2="792.50" y2="198.01" stroke="#000" stroke-width="1.8"/>
<line x1="117.20" y1="187.97" x2="122.40" y2="187.97" stroke="#000" stroke-width="1.8"/>
<line x1="797.70" y1="187.97" x2="792.50" y2="187.97" stroke="#000" stroke-width="1.8"/>
<line x1="117.20" y1="180.84" x2="122.40" y2="180.84" stroke="#000" stroke-width="1.8"/>
<line x1="797.70" y1="180.84" x2="792.50" y2="180.84" stroke="#000" stroke-width="1.8"/>
<line x1="117.20" y1="175.32" x2="122.40" y2="175.32" stroke="#000" stroke-width="1.8"/>
<line x1="797.70" y1="175.32" x2="792.50" y2="175.32" stroke="#000" stroke-width="1.8"/>
<line x1="117.20" y1="170.80" x2="122.40" y2="170.80" stroke="#000" stroke-width="1.8"/>
<line x1="797.70" y1="170.80" x2="792.50" y2="170.80" stroke="#000" stroke-width="1.8"/>
<line x1="117.20" y1="166.98" x2="122.40" y2="166.98" stroke="#000" stroke-width="1.8"/>
<line x1="797.70" y1="166.98" x2="792.50" y2="166.98" stroke="#000" stroke-width="1.8"/>
<line x1="117.20" y1="163.68" x2="122.40" y2="163.68" stroke="#000" stroke-width="1.8"/>
<line x1="797.70" y1="163.68" x2="792.50" y2="163.68" stroke="#000" stroke-width="1.8"/>
<line x1="117.20" y1="160.76" x2="122.40" y2="160.76" stroke="#000" stroke-width="1.8"/>
<line x1="797.70" y1="160.76" x2="792.50" y2="160.76" stroke="#000" stroke-width="1.8"/>
<line x1="113.10" y1="158.15" x2="122.40" y2="158.15" stroke="#000" stroke-width="1.8"/>
<line x1="797.70" y1="158.15" x2="788.20" y2="158.15" stroke="#000" stroke-width="1.8"/>
<line x1="117.20" y1="140.98" x2="122.40" y2="140.98" stroke="#000" stroke-width="1.8"/>
<line x1="797.70" y1="140.98" x2="792.50" y2="140.98" stroke="#000" stroke-width="1.8"/>
<line x1="117.20" y1="130.94" x2="122.40" y2="130.94" stroke="#000" stroke-width="1.8"/>
<line x1="797.70" y1="130.94" x2="792.50" y2="130.94" stroke="#000" stroke-width="1.8"/>
<line x1="117.20" y1="123.82" x2="122.40" y2="123.82" stroke="#000" stroke-width="1.8"/>
<line x1="797.70" y1="123.82" x2="792.50" y2="123.82" stroke="#000" stroke-width="1.8"/>
<line x1="117.20" y1="118.29" x2="122.40" y2="118.29" stroke="#000" stroke-width="1.8"/>
<line x1="797.70" y1="118.29" x2="792.50" y2="118.29" stroke="#000" stroke-width="1.8"/>
<line x1="117.20" y1="113.78" x2="122.40" y2="113.78" stroke="#000" stroke-width="1.8"/>
<line x1="797.70" y1="113.78" x2="792.50" y2="113.78" stroke="#000" stroke-width="1.8"/>
<line x1="117.20" y1="109.96" x2="122.40" y2="109.96" stroke="#000" stroke-width="1.8"/>
<line x1="797.70" y1="109.96" x2="792.50" y2="109.96" stroke="#000" stroke-width="1.8"/>
<line x1="117.20" y1="106.65" x2="122.40" y2="106.65" stroke="#000" stroke-width="1.8"/>
<line x1="797.70" y1="106.65" x2="792.50" y2="106.65" stroke="#000" stroke-width="1.8"/>
<line x1="117.20" y1="103.73" x2="122.40" y2="103.73" stroke="#000" stroke-width="1.8"/>
<line x1="797.70" y1="103.73" x2="792.50" y2="103.73" stroke="#000" stroke-width="1.8"/>
<line x1="113.10" y1="101.12" x2="122.40" y2="101.12" stroke="#000" stroke-width="1.8"/>
<line x1="797.70" y1="101.12" x2="788.20" y2="101.12" stroke="#000" stroke-width="1.8"/>
<line x1="117.20" y1="83.96" x2="122.40" y2="83.96" stroke="#000" stroke-width="1.8"/>
<line x1="797.70" y1="83.96" x2="792.50" y2="83.96" stroke="#000" stroke-width="1.8"/>
<line x1="117.20" y1="73.92" x2="122.40" y2="73.92" stroke="#000" stroke-width="1.8"/>
<line x1="797.70" y1="73.92" x2="792.50" y2="73.92" stroke="#000" stroke-width="1.8"/>
<line x1="117.20" y1="66.79" x2="122.40" y2="66.79" stroke="#000" stroke-width="1.8"/>
<line x1="797.70" y1="66.79" x2="792.50" y2="66.79" stroke="#000" stroke-width="1.8"/>
<line x1="117.20" y1="61.27" x2="122.40" y2="61.27" stroke="#000" stroke-width="1.8"/>
<line x1="797.70" y1="61.27" x2="792.50" y2="61.27" stroke="#000" stroke-width="1.8"/>
<line x1="117.20" y1="56.75" x2="122.40" y2="56.75" stroke="#000" stroke-width="1.8"/>
<line x1="797.70" y1="56.75" x2="792.50" y2="56.75" stroke="#000" stroke-width="1.8"/>
<line x1="117.20" y1="52.93" x2="122.40" y2="52.93" stroke="#000" stroke-width="1.8"/>
<line x1="797.70" y1="52.93" x2="792.50" y2="52.93" stroke="#000" stroke-width="1.8"/>
<line x1="117.20" y1="49.63" x2="122.40" y2="49.63" stroke="#000" stroke-width="1.8"/>
<line x1="797.70" y1="49.63" x2="792.50" y2="49.63" stroke="#000" stroke-width="1.8"/>
<line x1="117.20" y1="46.71" x2="122.40" y2="46.71" stroke="#000" stroke-width="1.8"/>
<line x1="797.70" y1="46.71" x2="792.50" y2="46.71" stroke="#000" stroke-width="1.8"/>
<line x1="113.10" y1="44.10" x2="122.40" y2="44.10" stroke="#000" stroke-width="1.8"/>
<line x1="797.70" y1="44.10" x2="788.20" y2="44.10" stroke="#000" stroke-width="1.8"/>
<text x="110.2" y="56.40" font-family='"Liberation Sans", Arial, sans-serif' font-size="35.5" text-anchor="end">10<tspan font-size="21" dy="-19">2</tspan></text>
<rect x="60.11" y="52.44" width="7.75" height="5.66" fill="#fff"/>
<rect x="71.22" y="52.44" width="7.10" height="5.66" fill="#fff"/>
<text x="110.2" y="170.45" font-family='"Liberation Sans", Arial, sans-serif' font-size="35.5" text-anchor="end">10<tspan font-size="21" dy="-19">0</tspan></text>
<rect x="60.11" y="166.49" width="7.75" height="5.66" fill="#fff"/>
<rect x="71.22" y="166.49" width="7.10" height="5.66" fill="#fff"/>
<text x="110.2" y="284.50" font-family='"Liberation Sans", Arial, sans-serif' font-size="35.5" text-anchor="end">10<tspan font-size="21" dy="-19">-2</tspan></text>
<rect x="53.12" y="280.54" width="7.75" height="5.66" fill="#fff"/>
<rect x="64.22" y="280.54" width="7.10" height="5.66" fill="#fff"/>
<text x="110.2" y="398.55" font-family='"Liberation Sans", Arial, sans-serif' font-size="35.5" text-anchor="end">10<tspan font-size="21" dy="-19">-4</tspan></text>
<rect x="53.12" y="394.59" width="7.75" height="5.66" fill="#fff"/>
<rect x="64.22" y="394.59" width="7.10" height="5.66" fill="#fff"/>
<text x="110.2" y="512.60" font-family='"Liberation Sans", Arial, sans-serif' font-size="35.5" text-anchor="end">10<tspan font-size="21" dy="-19">-6</tspan></text>
<rect x="53.12" y="508.64" width="7.75" height="5.66" fill="#fff"/>
<rect x="64.22" y="508.64" width="7.10" height="5.66" fill="#fff"/>
<text x="122.40" y="540.60" font-family='"Liberation Sans", Arial, sans-serif' font-size="36.5" text-anchor="middle" fill="#000" stroke="#000">-6</text>
<text x="347.50" y="540.60" font-family='"Liberation Sans", Arial, sans-serif' font-size="36.5" text-anchor="middle" fill="#000" stroke="#000">-4</text>
<text x="572.60" y="540.60" font-family='"Liberation Sans", Arial, sans-serif' font-size="36.5" text-anchor="middle" fill="#000" stroke="#000">-2</text>
<text x="797.70" y="540.60" font-family='"Liberation Sans", Arial, sans-serif' font-size="36.5" text-anchor="middle" fill="#000" stroke="#000">0</text>
<text transform="translate(284.0,588.6) scale(1,1.03)" font-family='"Liberation Sans", Arial, sans-serif' font-size="38.5">Junction Voltage <tspan font-size="48.5">(</tspan>V<tspan font-size="48.5">)</tspan></text>
<text transform="translate(41,275.8) rotate(-90)" font-family='"Liberation Sans", Arial, sans-serif' font-size="36.6" text-anchor="middle">|Current Density| (A/cm<tspan font-size="21" dy="-20">2</tspan><tspan dy="20">)</tspan></text>
<text x="-2.10" y="29.20" font-family='"Liberation Sans", Arial, sans-serif' font-size="40" text-anchor="start" fill="#000" stroke="#000" letter-spacing="0.9">(a)</text>
<path d="M999.10,196.31 L1008.20,212.16 L990.00,212.16 Z" fill="none" stroke="#e8000b" stroke-width="2.3" stroke-linejoin="miter"/>
<path d="M1004.70,190.51 L1013.80,206.36 L995.60,206.36 Z" fill="none" stroke="#e8000b" stroke-width="2.3" stroke-linejoin="miter"/>
<path d="M1017.50,184.41 L1026.60,200.26 L1008.40,200.26 Z" fill="none" stroke="#e8000b" stroke-width="2.3" stroke-linejoin="miter"/>
<path d="M1045.90,176.21 L1055.00,192.06 L1036.80,192.06 Z" fill="none" stroke="#e8000b" stroke-width="2.3" stroke-linejoin="miter"/>
<path d="M1064.70,164.81 L1073.80,180.66 L1055.60,180.66 Z" fill="none" stroke="#e8000b" stroke-width="2.3" stroke-linejoin="miter"/>
<path d="M1112.00,147.21 L1121.10,163.06 L1102.90,163.06 Z" fill="none" stroke="#e8000b" stroke-width="2.3" stroke-linejoin="miter"/>
<path d="M1132.90,141.11 L1142.00,156.96 L1123.80,156.96 Z" fill="none" stroke="#e8000b" stroke-width="2.3" stroke-linejoin="miter"/>
<path d="M1155.00,133.81 L1164.10,149.66 L1145.90,149.66 Z" fill="none" stroke="#e8000b" stroke-width="2.3" stroke-linejoin="miter"/>
<path d="M1186.80,122.31 L1195.90,138.16 L1177.70,138.16 Z" fill="none" stroke="#e8000b" stroke-width="2.3" stroke-linejoin="miter"/>
<path d="M1209.00,116.51 L1218.10,132.36 L1199.90,132.36 Z" fill="none" stroke="#e8000b" stroke-width="2.3" stroke-linejoin="miter"/>
<path d="M1237.20,105.51 L1246.30,121.36 L1228.10,121.36 Z" fill="none" stroke="#e8000b" stroke-width="2.3" stroke-linejoin="miter"/>
<path d="M1264.10,87.81 L1273.20,103.66 L1255.00,103.66 Z" fill="none" stroke="#e8000b" stroke-width="2.3" stroke-linejoin="miter"/>
<path d="M1299.30,83.01 L1308.40,98.86 L1290.20,98.86 Z" fill="none" stroke="#e8000b" stroke-width="2.3" stroke-linejoin="miter"/>
<path d="M1341.00,65.11 L1350.10,80.96 L1331.90,80.96 Z" fill="none" stroke="#e8000b" stroke-width="2.3" stroke-linejoin="miter"/>
<circle cx="1041.30" cy="215.70" r="7.8" fill="#fff" stroke="#000" stroke-width="2.6"/>
<circle cx="1094.70" cy="209.50" r="7.8" fill="#fff" stroke="#000" stroke-width="2.6"/>
<circle cx="1152.60" cy="200.70" r="7.8" fill="#fff" stroke="#000" stroke-width="2.6"/>
<circle cx="1226.90" cy="184.00" r="7.8" fill="#fff" stroke="#000" stroke-width="2.6"/>
<circle cx="1295.60" cy="160.00" r="7.8" fill="#fff" stroke="#000" stroke-width="2.6"/>
<circle cx="1328.70" cy="154.20" r="7.8" fill="#fff" stroke="#000" stroke-width="2.6"/>
<circle cx="1366.90" cy="144.80" r="7.8" fill="#fff" stroke="#000" stroke-width="2.6"/>
<circle cx="1483.10" cy="105.60" r="7.8" fill="#fff" stroke="#000" stroke-width="2.6"/>
<path d="M998.50,446.81 L1007.60,462.66 L989.40,462.66 Z" fill="none" stroke="#e8000b" stroke-width="2.3" stroke-linejoin="miter"/>
<path d="M999.00,448.81 L1008.10,464.66 L989.90,464.66 Z" fill="none" stroke="#e8000b" stroke-width="2.3" stroke-linejoin="miter"/>
<path d="M1004.00,444.81 L1013.10,460.66 L994.90,460.66 Z" fill="none" stroke="#e8000b" stroke-width="2.3" stroke-linejoin="miter"/>
<path d="M1017.60,450.31 L1026.70,466.16 L1008.50,466.16 Z" fill="none" stroke="#e8000b" stroke-width="2.3" stroke-linejoin="miter"/>
<path d="M1045.90,443.81 L1055.00,459.66 L1036.80,459.66 Z" fill="none" stroke="#e8000b" stroke-width="2.3" stroke-linejoin="miter"/>
<path d="M1065.00,441.81 L1074.10,457.66 L1055.90,457.66 Z" fill="none" stroke="#e8000b" stroke-width="2.3" stroke-linejoin="miter"/>
<path d="M1112.40,442.31 L1121.50,458.16 L1103.30,458.16 Z" fill="none" stroke="#e8000b" stroke-width="2.3" stroke-linejoin="miter"/>
<path d="M1133.20,439.41 L1142.30,455.26 L1124.10,455.26 Z" fill="none" stroke="#e8000b" stroke-width="2.3" stroke-linejoin="miter"/>
<path d="M1155.30,441.31 L1164.40,457.16 L1146.20,457.16 Z" fill="none" stroke="#e8000b" stroke-width="2.3" stroke-linejoin="miter"/>
<path d="M1187.00,429.91 L1196.10,445.76 L1177.90,445.76 Z" fill="none" stroke="#e8000b" stroke-width="2.3" stroke-linejoin="miter"/>
<path d="M1208.70,437.21 L1217.80,453.06 L1199.60,453.06 Z" fill="none" stroke="#e8000b" stroke-width="2.3" stroke-linejoin="miter"/>
<path d="M1237.50,428.51 L1246.60,444.36 L1228.40,444.36 Z" fill="none" stroke="#e8000b" stroke-width="2.3" stroke-linejoin="miter"/>
<path d="M1263.60,435.51 L1272.70,451.36 L1254.50,451.36 Z" fill="none" stroke="#e8000b" stroke-width="2.3" stroke-linejoin="miter"/>
<path d="M1300.30,427.51 L1309.40,443.36 L1291.20,443.36 Z" fill="none" stroke="#e8000b" stroke-width="2.3" stroke-linejoin="miter"/>
<path d="M1341.90,418.61 L1351.00,434.46 L1332.80,434.46 Z" fill="none" stroke="#e8000b" stroke-width="2.3" stroke-linejoin="miter"/>
<path d="M1420.90,396.61 L1430.00,412.46 L1411.80,412.46 Z" fill="none" stroke="#e8000b" stroke-width="2.3" stroke-linejoin="miter"/>
<circle cx="1040.90" cy="459.30" r="7.8" fill="#fff" stroke="#000" stroke-width="2.6"/>
<circle cx="1094.90" cy="454.50" r="7.8" fill="#fff" stroke="#000" stroke-width="2.6"/>
<circle cx="1152.70" cy="455.00" r="7.8" fill="#fff" stroke="#000" stroke-width="2.6"/>
<circle cx="1227.00" cy="449.50" r="7.8" fill="#fff" stroke="#000" stroke-width="2.6"/>
<circle cx="1295.20" cy="436.80" r="7.8" fill="#fff" stroke="#000" stroke-width="2.6"/>
<circle cx="1328.40" cy="430.30" r="7.8" fill="#fff" stroke="#000" stroke-width="2.6"/>
<circle cx="1367.20" cy="417.70" r="7.8" fill="#fff" stroke="#000" stroke-width="2.6"/>
<circle cx="1482.60" cy="346.90" r="7.8" fill="#fff" stroke="#000" stroke-width="2.6"/>
<rect x="982.70" y="45.60" width="659.50" height="454.60" fill="none" stroke="#000" stroke-width="2.3"/>
<line x1="973.10" y1="272.30" x2="1642.20" y2="272.30" stroke="#000" stroke-width="2.3"/>
<line x1="982.70" y1="500.20" x2="982.70" y2="509.20" stroke="#000" stroke-width="1.8"/>
<line x1="982.70" y1="272.30" x2="982.70" y2="282.30" stroke="#000" stroke-width="1.8"/>
<line x1="982.70" y1="45.60" x2="982.70" y2="55.60" stroke="#000" stroke-width="1.8"/>
<line x1="1037.66" y1="500.20" x2="1037.66" y2="505.20" stroke="#000" stroke-width="1.8"/>
<line x1="1037.66" y1="272.30" x2="1037.66" y2="277.30" stroke="#000" stroke-width="1.8"/>
<line x1="1037.66" y1="45.60" x2="1037.66" y2="50.60" stroke="#000" stroke-width="1.8"/>
<line x1="1092.62" y1="500.20" x2="1092.62" y2="509.20" stroke="#000" stroke-width="1.8"/>
<line x1="1092.62" y1="272.30" x2="1092.62" y2="282.30" stroke="#000" stroke-width="1.8"/>
<line x1="1092.62" y1="45.60" x2="1092.62" y2="55.60" stroke="#000" stroke-width="1.8"/>
<line x1="1147.58" y1="500.20" x2="1147.58" y2="505.20" stroke="#000" stroke-width="1.8"/>
<line x1="1147.58" y1="272.30" x2="1147.58" y2="277.30" stroke="#000" stroke-width="1.8"/>
<line x1="1147.58" y1="45.60" x2="1147.58" y2="50.60" stroke="#000" stroke-width="1.8"/>
<line x1="1202.53" y1="500.20" x2="1202.53" y2="509.20" stroke="#000" stroke-width="1.8"/>
<line x1="1202.53" y1="272.30" x2="1202.53" y2="282.30" stroke="#000" stroke-width="1.8"/>
<line x1="1202.53" y1="45.60" x2="1202.53" y2="55.60" stroke="#000" stroke-width="1.8"/>
<line x1="1257.49" y1="500.20" x2="1257.49" y2="505.20" stroke="#000" stroke-width="1.8"/>
<line x1="1257.49" y1="272.30" x2="1257.49" y2="277.30" stroke="#000" stroke-width="1.8"/>
<line x1="1257.49" y1="45.60" x2="1257.49" y2="50.60" stroke="#000" stroke-width="1.8"/>
<line x1="1312.45" y1="500.20" x2="1312.45" y2="509.20" stroke="#000" stroke-width="1.8"/>
<line x1="1312.45" y1="272.30" x2="1312.45" y2="282.30" stroke="#000" stroke-width="1.8"/>
<line x1="1312.45" y1="45.60" x2="1312.45" y2="55.60" stroke="#000" stroke-width="1.8"/>
<line x1="1367.41" y1="500.20" x2="1367.41" y2="505.20" stroke="#000" stroke-width="1.8"/>
<line x1="1367.41" y1="272.30" x2="1367.41" y2="277.30" stroke="#000" stroke-width="1.8"/>
<line x1="1367.41" y1="45.60" x2="1367.41" y2="50.60" stroke="#000" stroke-width="1.8"/>
<line x1="1422.37" y1="500.20" x2="1422.37" y2="509.20" stroke="#000" stroke-width="1.8"/>
<line x1="1422.37" y1="272.30" x2="1422.37" y2="282.30" stroke="#000" stroke-width="1.8"/>
<line x1="1422.37" y1="45.60" x2="1422.37" y2="55.60" stroke="#000" stroke-width="1.8"/>
<line x1="1477.33" y1="500.20" x2="1477.33" y2="505.20" stroke="#000" stroke-width="1.8"/>
<line x1="1477.33" y1="272.30" x2="1477.33" y2="277.30" stroke="#000" stroke-width="1.8"/>
<line x1="1477.33" y1="45.60" x2="1477.33" y2="50.60" stroke="#000" stroke-width="1.8"/>
<line x1="1532.28" y1="500.20" x2="1532.28" y2="509.20" stroke="#000" stroke-width="1.8"/>
<line x1="1532.28" y1="272.30" x2="1532.28" y2="282.30" stroke="#000" stroke-width="1.8"/>
<line x1="1532.28" y1="45.60" x2="1532.28" y2="55.60" stroke="#000" stroke-width="1.8"/>
<line x1="1587.24" y1="500.20" x2="1587.24" y2="505.20" stroke="#000" stroke-width="1.8"/>
<line x1="1587.24" y1="272.30" x2="1587.24" y2="277.30" stroke="#000" stroke-width="1.8"/>
<line x1="1587.24" y1="45.60" x2="1587.24" y2="50.60" stroke="#000" stroke-width="1.8"/>
<line x1="1642.20" y1="500.20" x2="1642.20" y2="509.20" stroke="#000" stroke-width="1.8"/>
<line x1="1642.20" y1="272.30" x2="1642.20" y2="282.30" stroke="#000" stroke-width="1.8"/>
<line x1="1642.20" y1="45.60" x2="1642.20" y2="55.60" stroke="#000" stroke-width="1.8"/>
<line x1="973.10" y1="272.30" x2="982.70" y2="272.30" stroke="#000" stroke-width="1.8"/>
<line x1="1642.20" y1="272.30" x2="1632.60" y2="272.30" stroke="#000" stroke-width="1.8"/>
<line x1="977.50" y1="251.63" x2="982.70" y2="251.63" stroke="#000" stroke-width="1.8"/>
<line x1="1642.20" y1="251.63" x2="1637.00" y2="251.63" stroke="#000" stroke-width="1.8"/>
<line x1="977.50" y1="239.53" x2="982.70" y2="239.53" stroke="#000" stroke-width="1.8"/>
<line x1="1642.20" y1="239.53" x2="1637.00" y2="239.53" stroke="#000" stroke-width="1.8"/>
<line x1="977.50" y1="230.95" x2="982.70" y2="230.95" stroke="#000" stroke-width="1.8"/>
<line x1="1642.20" y1="230.95" x2="1637.00" y2="230.95" stroke="#000" stroke-width="1.8"/>
<line x1="977.50" y1="224.30" x2="982.70" y2="224.30" stroke="#000" stroke-width="1.8"/>
<line x1="1642.20" y1="224.30" x2="1637.00" y2="224.30" stroke="#000" stroke-width="1.8"/>
<line x1="977.50" y1="218.86" x2="982.70" y2="218.86" stroke="#000" stroke-width="1.8"/>
<line x1="1642.20" y1="218.86" x2="1637.00" y2="218.86" stroke="#000" stroke-width="1.8"/>
<line x1="977.50" y1="214.26" x2="982.70" y2="214.26" stroke="#000" stroke-width="1.8"/>
<line x1="1642.20" y1="214.26" x2="1637.00" y2="214.26" stroke="#000" stroke-width="1.8"/>
<line x1="977.50" y1="210.28" x2="982.70" y2="210.28" stroke="#000" stroke-width="1.8"/>
<line x1="1642.20" y1="210.28" x2="1637.00" y2="210.28" stroke="#000" stroke-width="1.8"/>
<line x1="977.50" y1="206.77" x2="982.70" y2="206.77" stroke="#000" stroke-width="1.8"/>
<line x1="1642.20" y1="206.77" x2="1637.00" y2="206.77" stroke="#000" stroke-width="1.8"/>
<line x1="973.10" y1="203.62" x2="982.70" y2="203.62" stroke="#000" stroke-width="1.8"/>
<line x1="1642.20" y1="203.62" x2="1632.60" y2="203.62" stroke="#000" stroke-width="1.8"/>
<line x1="977.50" y1="182.95" x2="982.70" y2="182.95" stroke="#000" stroke-width="1.8"/>
<line x1="1642.20" y1="182.95" x2="1637.00" y2="182.95" stroke="#000" stroke-width="1.8"/>
<line x1="977.50" y1="170.86" x2="982.70" y2="170.86" stroke="#000" stroke-width="1.8"/>
<line x1="1642.20" y1="170.86" x2="1637.00" y2="170.86" stroke="#000" stroke-width="1.8"/>
<line x1="977.50" y1="162.28" x2="982.70" y2="162.28" stroke="#000" stroke-width="1.8"/>
<line x1="1642.20" y1="162.28" x2="1637.00" y2="162.28" stroke="#000" stroke-width="1.8"/>
<line x1="977.50" y1="155.62" x2="982.70" y2="155.62" stroke="#000" stroke-width="1.8"/>
<line x1="1642.20" y1="155.62" x2="1637.00" y2="155.62" stroke="#000" stroke-width="1.8"/>
<line x1="977.50" y1="150.18" x2="982.70" y2="150.18" stroke="#000" stroke-width="1.8"/>
<line x1="1642.20" y1="150.18" x2="1637.00" y2="150.18" stroke="#000" stroke-width="1.8"/>
<line x1="977.50" y1="145.59" x2="982.70" y2="145.59" stroke="#000" stroke-width="1.8"/>
<line x1="1642.20" y1="145.59" x2="1637.00" y2="145.59" stroke="#000" stroke-width="1.8"/>
<line x1="977.50" y1="141.60" x2="982.70" y2="141.60" stroke="#000" stroke-width="1.8"/>
<line x1="1642.20" y1="141.60" x2="1637.00" y2="141.60" stroke="#000" stroke-width="1.8"/>
<line x1="977.50" y1="138.09" x2="982.70" y2="138.09" stroke="#000" stroke-width="1.8"/>
<line x1="1642.20" y1="138.09" x2="1637.00" y2="138.09" stroke="#000" stroke-width="1.8"/>
<line x1="973.10" y1="134.95" x2="982.70" y2="134.95" stroke="#000" stroke-width="1.8"/>
<line x1="1642.20" y1="134.95" x2="1632.60" y2="134.95" stroke="#000" stroke-width="1.8"/>
<line x1="977.50" y1="114.28" x2="982.70" y2="114.28" stroke="#000" stroke-width="1.8"/>
<line x1="1642.20" y1="114.28" x2="1637.00" y2="114.28" stroke="#000" stroke-width="1.8"/>
<line x1="977.50" y1="102.18" x2="982.70" y2="102.18" stroke="#000" stroke-width="1.8"/>
<line x1="1642.20" y1="102.18" x2="1637.00" y2="102.18" stroke="#000" stroke-width="1.8"/>
<line x1="977.50" y1="93.60" x2="982.70" y2="93.60" stroke="#000" stroke-width="1.8"/>
<line x1="1642.20" y1="93.60" x2="1637.00" y2="93.60" stroke="#000" stroke-width="1.8"/>
<line x1="977.50" y1="86.95" x2="982.70" y2="86.95" stroke="#000" stroke-width="1.8"/>
<line x1="1642.20" y1="86.95" x2="1637.00" y2="86.95" stroke="#000" stroke-width="1.8"/>
<line x1="977.50" y1="81.51" x2="982.70" y2="81.51" stroke="#000" stroke-width="1.8"/>
<line x1="1642.20" y1="81.51" x2="1637.00" y2="81.51" stroke="#000" stroke-width="1.8"/>
<line x1="977.50" y1="76.91" x2="982.70" y2="76.91" stroke="#000" stroke-width="1.8"/>
<line x1="1642.20" y1="76.91" x2="1637.00" y2="76.91" stroke="#000" stroke-width="1.8"/>
<line x1="977.50" y1="72.93" x2="982.70" y2="72.93" stroke="#000" stroke-width="1.8"/>
<line x1="1642.20" y1="72.93" x2="1637.00" y2="72.93" stroke="#000" stroke-width="1.8"/>
<line x1="977.50" y1="69.42" x2="982.70" y2="69.42" stroke="#000" stroke-width="1.8"/>
<line x1="1642.20" y1="69.42" x2="1637.00" y2="69.42" stroke="#000" stroke-width="1.8"/>
<line x1="973.10" y1="66.27" x2="982.70" y2="66.27" stroke="#000" stroke-width="1.8"/>
<line x1="1642.20" y1="66.27" x2="1632.60" y2="66.27" stroke="#000" stroke-width="1.8"/>
<line x1="977.50" y1="45.60" x2="982.70" y2="45.60" stroke="#000" stroke-width="1.8"/>
<line x1="1642.20" y1="45.60" x2="1637.00" y2="45.60" stroke="#000" stroke-width="1.8"/>
<line x1="973.10" y1="500.20" x2="982.70" y2="500.20" stroke="#000" stroke-width="1.8"/>
<line x1="1642.20" y1="500.20" x2="1632.60" y2="500.20" stroke="#000" stroke-width="1.8"/>
<line x1="977.70" y1="454.62" x2="982.70" y2="454.62" stroke="#000" stroke-width="1.8"/>
<line x1="1642.20" y1="454.62" x2="1637.20" y2="454.62" stroke="#000" stroke-width="1.8"/>
<line x1="973.10" y1="409.04" x2="982.70" y2="409.04" stroke="#000" stroke-width="1.8"/>
<line x1="1642.20" y1="409.04" x2="1632.60" y2="409.04" stroke="#000" stroke-width="1.8"/>
<line x1="977.70" y1="363.46" x2="982.70" y2="363.46" stroke="#000" stroke-width="1.8"/>
<line x1="1642.20" y1="363.46" x2="1637.20" y2="363.46" stroke="#000" stroke-width="1.8"/>
<line x1="973.10" y1="317.88" x2="982.70" y2="317.88" stroke="#000" stroke-width="1.8"/>
<line x1="1642.20" y1="317.88" x2="1632.60" y2="317.88" stroke="#000" stroke-width="1.8"/>
<text transform="translate(967.20,281.50) scale(1,1.035)" font-family='"Liberation Sans", Arial, sans-serif' font-size="32" text-anchor="end" fill="#000" stroke="#000">1</text>
<rect x="950.37" y="277.72" width="6.97" height="5.48" fill="#fff"/>
<rect x="960.39" y="277.72" width="6.40" height="5.48" fill="#fff"/>
<text transform="translate(967.20,212.82) scale(1,1.035)" font-family='"Liberation Sans", Arial, sans-serif' font-size="32" text-anchor="end" fill="#000" stroke="#000">10</text>
<rect x="932.58" y="209.04" width="6.97" height="5.48" fill="#fff"/>
<rect x="942.60" y="209.04" width="6.40" height="5.48" fill="#fff"/>
<text transform="translate(967.20,144.15) scale(1,1.035)" font-family='"Liberation Sans", Arial, sans-serif' font-size="32" text-anchor="end" fill="#000" stroke="#000">100</text>
<rect x="914.78" y="140.36" width="6.97" height="5.48" fill="#fff"/>
<rect x="924.80" y="140.36" width="6.40" height="5.48" fill="#fff"/>
<text transform="translate(967.20,75.47) scale(1,1.035)" font-family='"Liberation Sans", Arial, sans-serif' font-size="32" text-anchor="end" fill="#000" stroke="#000">1000</text>
<rect x="896.99" y="71.69" width="6.97" height="5.48" fill="#fff"/>
<rect x="907.01" y="71.69" width="6.40" height="5.48" fill="#fff"/>
<text transform="translate(965.30,509.00) scale(1,1.035)" font-family='"Liberation Sans", Arial, sans-serif' font-size="32" text-anchor="end" fill="#000" stroke="#000">0.00</text>
<text transform="translate(965.30,417.84) scale(1,1.035)" font-family='"Liberation Sans", Arial, sans-serif' font-size="32" text-anchor="end" fill="#000" stroke="#000">0.10</text>
<rect x="930.68" y="414.06" width="6.97" height="5.48" fill="#fff"/>
<rect x="940.70" y="414.06" width="6.40" height="5.48" fill="#fff"/>
<text transform="translate(965.30,326.68) scale(1,1.035)" font-family='"Liberation Sans", Arial, sans-serif' font-size="32" text-anchor="end" fill="#000" stroke="#000">0.20</text>
<text x="973.90" y="543.30" font-family='"Liberation Sans", Arial, sans-serif' font-size="37" text-anchor="middle" fill="#000" stroke="#000">-6</text>
<text x="1085.22" y="543.30" font-family='"Liberation Sans", Arial, sans-serif' font-size="37" text-anchor="middle" fill="#000" stroke="#000">-5</text>
<text x="1197.13" y="543.30" font-family='"Liberation Sans", Arial, sans-serif' font-size="37" text-anchor="middle" fill="#000" stroke="#000">-4</text>
<text x="1310.25" y="543.30" font-family='"Liberation Sans", Arial, sans-serif' font-size="37" text-anchor="middle" fill="#000" stroke="#000">-3</text>
<text x="1422.07" y="543.30" font-family='"Liberation Sans", Arial, sans-serif' font-size="37" text-anchor="middle" fill="#000" stroke="#000">-2</text>
<text x="1532.28" y="543.30" font-family='"Liberation Sans", Arial, sans-serif' font-size="37" text-anchor="middle" fill="#000" stroke="#000">-1</text>
<rect x="1529.27" y="539.23" width="8.08" height="5.78" fill="#fff"/>
<rect x="1540.84" y="539.23" width="7.40" height="5.78" fill="#fff"/>
<text x="1641.50" y="543.30" font-family='"Liberation Sans", Arial, sans-serif' font-size="37" text-anchor="middle" fill="#000" stroke="#000">0</text>
<text transform="translate(1149.50,589.70) scale(1,1.03)" font-family='"Liberation Sans", Arial, sans-serif' font-size="38.5" text-anchor="start" fill="#000" stroke="#000">Junction Voltage (V)</text>
<g transform="translate(874,0) rotate(-90)" font-family='"Liberation Sans", Arial, sans-serif' fill="#000">
<text x="-259.5" y="0" font-size="36">|</text>
<text x="-251.2" y="0" font-family='"Liberation Serif", "Times New Roman", serif' font-size="34.5">&#916;</text>
<text x="-230.1" y="0" font-size="34">R</text>
<text x="-203.8" y="14" font-size="22">TAMR</text>
<text x="-143.2" y="0" font-size="36">|</text>
<text x="-121.6" y="6" font-family='"Liberation Serif", "Times New Roman", serif' font-size="42">(&#937;)</text>
</g>
<text transform="translate(874.6,475.3) rotate(-90)" font-family='"Liberation Sans", Arial, sans-serif' font-size="36.5">TAMR (%)</text>
<text x="837.50" y="33.40" font-family='"Liberation Sans", Arial, sans-serif' font-size="40" text-anchor="start" fill="#000" stroke="#000" letter-spacing="1.2">(b)</text>
</svg>
</body></html>
